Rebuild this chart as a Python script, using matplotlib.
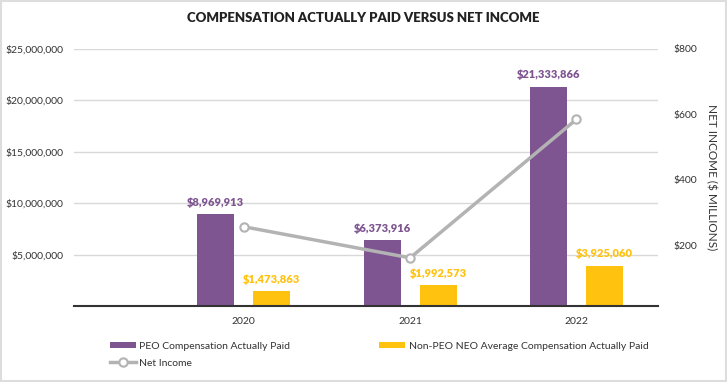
import numpy as np
import matplotlib.pyplot as plt

# Данные
years = ['2020', '2021', '2022']
peo_cap = [8969913, 6373916, 21333866]
neo_cap = [1473863, 1992573, 3925060]
net_income = [257, 162, 585]  # $ млн, оценка по графику

purple = '#7E5591'
yellow = '#FFC20E'
gray = '#B3B3B3'
txt = '#333333'

plt.rcParams['font.family'] = ['Lato', 'DejaVu Sans']

fig = plt.figure(figsize=(7.27, 3.82), dpi=100)
ax = fig.add_axes([0.102, 0.199, 0.803, 0.673])
ax2 = ax.twinx()

x = np.arange(len(years))
w = 0.223
off = 0.168
b1 = ax.bar(x - off, peo_cap, w, color=purple, label='PEO Compensation Actually Paid', zorder=2)
b2 = ax.bar(x + off, neo_cap, w, color=yellow,
            label='Non-PEO NEO Average Compensation Actually Paid', zorder=2)

for xi, v in zip(x, peo_cap):
    ax.text(xi - off, v + 600000, f'${v:,}', ha='center', va='bottom',
            color=purple, fontsize=8, fontweight='heavy')
for xi, v in zip(x, neo_cap):
    ax.text(xi + off, v + 600000, f'${v:,}', ha='center', va='bottom',
            color=yellow, fontsize=8, fontweight='heavy')

ln, = ax2.plot(x, net_income, color=gray, lw=2.5, marker='o', ms=6,
               mfc='white', mec=gray, mew=1.5, label='Net Income', zorder=3)

ax.set_xlim(-1.02, 2.49)
ax.set_ylim(0, 25000000)
ax.set_yticks([5000000, 10000000, 15000000, 20000000, 25000000])
ax.set_yticklabels([f'${v:,}' for v in ax.get_yticks()])
ax.set_xticks(x)
ax.set_xticklabels(years)
ax.grid(axis='y', color='#D9D9D9', lw=1, zorder=0)
ax.set_axisbelow(True)

ax2.set_ylim(15, 800)
ax2.set_yticks([200, 400, 600, 800])
ax2.set_yticklabels(['$200', '$400', '$600', '$800'])
ax2.set_ylabel('NET INCOME ($ MILLIONS)', rotation=-90, labelpad=14, fontsize=8.5, color=txt)

for a in (ax, ax2):
    for s in ['top', 'left', 'right', 'bottom']:
        a.spines[s].set_visible(False)
    a.tick_params(length=0, labelsize=7.5, colors=txt)
ax.spines['bottom'].set_visible(True)
ax.spines['bottom'].set_color('#333333')
ax.spines['bottom'].set_linewidth(1.5)
ax.tick_params(axis='x', pad=8)
ax.tick_params(axis='y', pad=8)
ax2.tick_params(axis='y', pad=11)

ax2.set_zorder(ax.get_zorder() + 1)
ax2.patch.set_visible(False)

fig.text(0.5, 0.953, 'COMPENSATION ACTUALLY PAID VERSUS NET INCOME', ha='center', va='center',
         fontsize=9.5, fontweight='heavy', color='#222222')

# порядок: колонка 1 — PEO и Net Income, колонка 2 — Non-PEO
fig.legend(handles=[b1, ln, b2], loc='upper left', bbox_to_anchor=(0.138, 0.13), ncol=2,
           frameon=False, fontsize=7.5, handlelength=2.5, handleheight=0.6,
           columnspacing=8.6, labelspacing=0.75, handletextpad=0.3, labelcolor=txt)

fig.patches.append(plt.Rectangle((0.002, 0.003), 0.996, 0.994, transform=fig.transFigure,
                                 fill=False, ec='#DDDDDD', lw=1.5))

fig.savefig('out.png', dpi=100)
